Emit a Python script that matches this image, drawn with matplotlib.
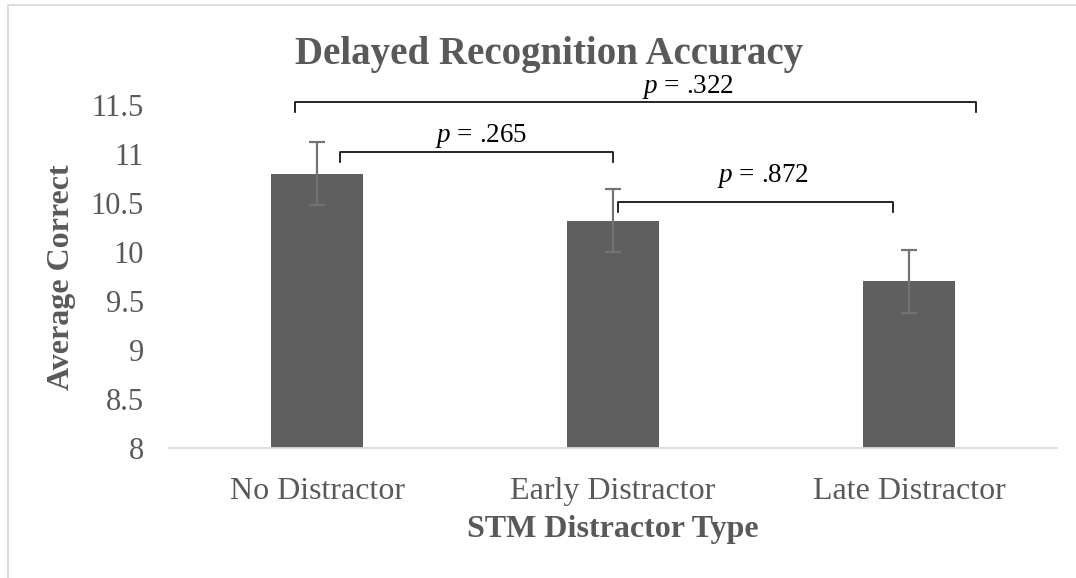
import matplotlib
matplotlib.use("Agg")
import matplotlib.pyplot as plt
from matplotlib.patches import Rectangle

plt.rcParams['font.family'] = ['Liberation Serif', 'DejaVu Serif']
plt.rcParams['mathtext.fontset'] = 'custom'
plt.rcParams['mathtext.it'] = 'Liberation Serif:italic'
plt.rcParams['mathtext.rm'] = 'Liberation Serif'

# Data
categories = ["No Distractor", "Early Distractor", "Late Distractor"]
means = [10.8, 10.32, 9.7]
errors = [0.32, 0.32, 0.32]
comparisons = [(0, 2, ".322"), (0, 1, ".265"), (1, 2, ".872")]
yticks = [8, 8.5, 9, 9.5, 10, 10.5, 11, 11.5]
ytick_labels = ["8", "8.5", "9", "9.5", "10", "10.5", "11", "11.5"]

# Annotation layout (x start, x end, bracket y, tick drop, text x, text y)
bracket_layout = [
    (-0.074, 2.226, 11.53, 0.10, 1.253, 11.68),
    (0.078, 1.0, 11.02, 0.10, 0.554, 11.18),
    (1.017, 1.946, 10.51, 0.10, 1.507, 10.78),
]

W, H = 1076, 578
fig = plt.figure(figsize=(W / 100, H / 100), dpi=100)
fig.patch.set_facecolor('white')
fig.patches.append(Rectangle((8 / W, -0.1), 1.2, 1 - 5 / H + 0.1, transform=fig.transFigure,
                             fill=False, edgecolor='#d9d9d9', linewidth=1.3))

ax = fig.add_axes([169 / W, 1 - 448 / H, (1057 - 169) / W, (448 - 105) / H])
x = list(range(len(categories)))
ax.bar(x, means, width=0.31, color='#5f5f5f', zorder=2)
ax.errorbar(x, means, yerr=errors, fmt='none', ecolor='#737373', elinewidth=1.6,
            capsize=6, capthick=1.6, zorder=3)

ax.set_xlim(-0.5, 2.5)
ax.set_ylim(8, 11.5)
ax.set_yticks(yticks)
ax.set_yticklabels(ytick_labels)
ax.set_xticks(x)
ax.set_xticklabels(categories)
ax.tick_params(axis='both', length=0, labelsize=22, labelcolor='#595959')
ax.tick_params(axis='x', labelsize=23, pad=21)
ax.tick_params(axis='y', pad=18)
for s in ['top', 'right', 'left']:
    ax.spines[s].set_visible(False)
ax.spines['bottom'].set_color('#d9d9d9')
ax.spines['bottom'].set_linewidth(1.3)

for (i, j, p), (xs, xe, yb, drop, tx, ty) in zip(comparisons, bracket_layout):
    ax.plot([xs, xs, xe, xe], [yb - drop, yb, yb, yb - drop], color='black',
            linewidth=1.2, clip_on=False, zorder=4)
    ax.text(tx, ty, r'$p$ = ' + p, ha='center', va='center', fontsize=19.5,
            color='black', clip_on=False)

fig.text(549 / W, 1 - 64 / H, "Delayed Recognition Accuracy", ha='center', va='baseline',
         fontsize=28, fontweight='bold', color='#595959')
fig.text(61 / W, 1 - 277 / H, "Average Correct", ha='center', va='center', rotation=90,
         fontsize=23, fontweight='bold', color='#595959')
fig.text(613 / W, 1 - 530 / H, "STM Distractor Type", ha='center', va='center',
         fontsize=23, fontweight='bold', color='#595959')

fig.savefig("out.png", dpi=100)
